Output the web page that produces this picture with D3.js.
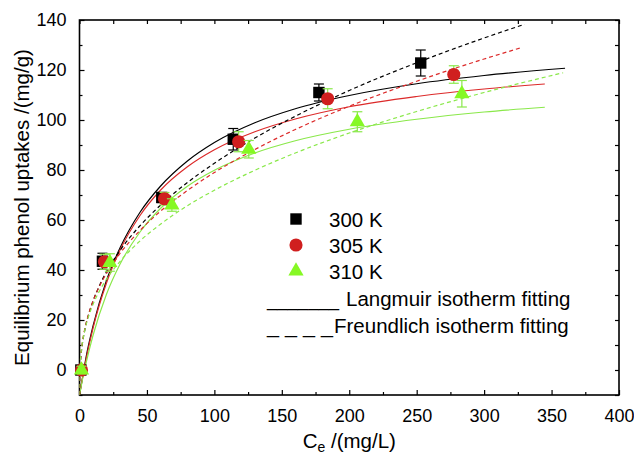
<!DOCTYPE html>
<html>
<head>
<meta charset="utf-8">
<script src="https://cdn.jsdelivr.net/npm/d3@7/dist/d3.min.js"></script>
<style>
  html, body { margin: 0; padding: 0; background: #fff; }
  svg { display: block; font-family: "Liberation Sans", Arial, Helvetica, sans-serif; }
</style>
</head>
<body>
<svg id="chart" width="634" height="455"></svg>
<script>
// Axis ticks
const xTicks = [0, 50, 100, 150, 200, 250, 300, 350, 400];
const xMinorTicks = [25, 75, 125, 175, 225, 275, 325, 375];
const yTicks = [0, 20, 40, 60, 80, 100, 120, 140];
const yMinorTicks = [-10, 10, 30, 50, 70, 90, 110, 130];

// Measured uptake (mg/g) vs equilibrium concentration (mg/L), with error bars
const ce300 = [1, 17, 61, 114, 177.5, 253];
const q300 = [0, 43.5, 69, 92.3, 111, 122.8];
const err300 = [1, 3.2, 2, 4.3, 3.4, 5.2];

const ce305 = [1.5, 18.5, 63, 118, 184, 277.5];
const q305 = [0, 43.3, 68.5, 91.3, 108.5, 118.2];
const err305 = [1, 3, 2.5, 4, 4, 3.5];

const ce310 = [1.5, 22.5, 68.5, 125.5, 206, 283.5];
const q310 = [0, 43, 66, 88.3, 99.3, 110.5];
const err310 = [1.5, 3.5, 2.5, 3.5, 4, 5.3];

// Langmuir fitted curves
const lanC300 = [0, 2, 5, 10, 20, 30, 45, 60, 80, 100, 130, 160, 200, 250, 300, 360];
const lanQ300 = [-10, -3.9, 5.5, 17.5, 35.8, 48.8, 63.2, 73.5, 83.6, 91.0, 98.9, 104.5, 109.8, 114.5, 117.8, 120.7];
const lanC305 = [0, 2, 5, 10, 20, 30, 45, 60, 80, 100, 130, 160, 200, 250, 300, 345];
const lanQ305 = [-10, -3.7, 4.7, 16.7, 34.8, 47.9, 61.9, 71.9, 81.3, 88.1, 95.3, 100.4, 105.3, 109.4, 112.4, 114.4];
const lanC310 = [0, 2, 5, 10, 20, 30, 45, 60, 80, 100, 130, 160, 200, 250, 300, 345];
const lanQ310 = [-10, -4.4, 3.1, 13.8, 30.3, 42.3, 55.3, 64.6, 73.5, 79.9, 86.8, 91.7, 96.3, 100.3, 103.2, 105.1];

// Freundlich fitted curves
const freC300 = [0, 0.25, 1, 2, 4, 7, 10, 15, 20, 30, 45, 60, 80, 100, 130, 160, 200, 250, 300, 330];
const freQ300 = [-10, -1.2, 5.2, 9.9, 16.2, 22.6, 27.5, 34.0, 39.3, 47.8, 57.8, 65.9, 75.0, 82.7, 92.8, 101.5, 111.8, 122.9, 132.8, 138.3];
const freC305 = [0, 0.25, 1, 2, 4, 7, 10, 15, 20, 30, 45, 60, 80, 100, 130, 160, 200, 250, 300, 328];
const freQ305 = [-10, -0.6, 5.8, 10.5, 16.6, 22.8, 27.5, 33.7, 38.6, 46.6, 55.9, 63.5, 71.8, 79.0, 88.2, 96.2, 105.5, 115.5, 124.4, 129.0];
const freC310 = [0, 0.25, 1, 2, 4, 7, 10, 15, 20, 30, 45, 60, 80, 100, 130, 160, 200, 250, 300, 358.6];
const freQ310 = [-10, -0.2, 6.0, 10.4, 16.1, 21.9, 26.2, 31.8, 36.3, 43.4, 51.7, 58.3, 65.7, 71.9, 79.9, 86.8, 94.8, 103.4, 111.0, 118.9];

const legendLabels = ["300 K", "305 K", "310 K"];

const BLACK = "#000000", RED = "#d01f1f", GREEN = "#86f824";
const RED_LINE = "#dc2a2a", GREEN_LINE = "#8ae84a";

const svg = d3.select("#chart");
const margin = { left: 79.5, right: 15, top: 20, bottom: 60 };
const W = 634, H = 455;

const x = d3.scaleLinear().domain([0, 400]).range([margin.left, W - margin.right]);
const y = d3.scaleLinear().domain([-10, 140]).range([H - margin.bottom, margin.top]);

const x0 = x.range()[0], x1 = x.range()[1], y0 = y.range()[0], y1 = y.range()[1];

svg.append("defs").append("clipPath").attr("id", "plotClip")
  .append("rect").attr("x", x0).attr("y", y1).attr("width", x1 - x0).attr("height", y0 - y1);

// Axes: bottom/left with labels, top/right mirrored ticks, all ticks pointing inward
function styleAxis(g) {
  g.select(".domain").remove();
  g.selectAll(".tick line").attr("stroke", "#000").attr("stroke-width", 1.2);
  g.selectAll(".tick text").attr("font-size", 18).attr("fill", "#000")
    .attr("font-family", "'Liberation Sans', Arial, sans-serif");
}

svg.append("g").attr("transform", `translate(0,${y0})`)
  .call(d3.axisBottom(x).tickValues(xTicks).tickSizeInner(-5).tickSizeOuter(0).tickPadding(14).tickFormat(d3.format("d")))
  .call(styleAxis);
svg.append("g").attr("transform", `translate(0,${y0})`)
  .call(d3.axisBottom(x).tickValues(xMinorTicks).tickSizeInner(-3).tickSizeOuter(0).tickFormat(""))
  .call(styleAxis);
svg.append("g").attr("transform", `translate(0,${y1})`)
  .call(d3.axisTop(x).tickValues(xTicks.concat(xMinorTicks)).tickSizeInner(-4).tickSizeOuter(0).tickFormat(""))
  .call(styleAxis);

svg.append("g").attr("transform", `translate(${x0},0)`)
  .call(d3.axisLeft(y).tickValues(yTicks).tickSizeInner(-5).tickSizeOuter(0).tickPadding(13).tickFormat(d3.format("d")))
  .call(styleAxis);
svg.append("g").attr("transform", `translate(${x0},0)`)
  .call(d3.axisLeft(y).tickValues(yMinorTicks).tickSizeInner(-3).tickSizeOuter(0).tickFormat(""))
  .call(styleAxis);
svg.append("g").attr("transform", `translate(${x1},0)`)
  .call(d3.axisRight(y).tickValues(yTicks.concat(yMinorTicks)).tickSizeInner(-4).tickSizeOuter(0).tickFormat(""))
  .call(styleAxis);

// Frame
svg.append("rect").attr("x", x0).attr("y", y1).attr("width", x1 - x0).attr("height", y0 - y1)
  .attr("fill", "none").attr("stroke", "#000").attr("stroke-width", 1.6);

// Fitted curves
const line = d3.line().x(d => x(d[0])).y(d => y(d[1])).curve(d3.curveMonotoneX);
const curves = [
  { c: lanC300, q: lanQ300, color: BLACK, dash: null },
  { c: lanC305, q: lanQ305, color: RED_LINE, dash: null },
  { c: lanC310, q: lanQ310, color: GREEN_LINE, dash: null },
  { c: freC300, q: freQ300, color: BLACK, dash: "4,3" },
  { c: freC305, q: freQ305, color: RED_LINE, dash: "4,3" },
  { c: freC310, q: freQ310, color: GREEN_LINE, dash: "4,3" }
];
const curveG = svg.append("g").attr("clip-path", "url(#plotClip)");
curves.forEach(cv => {
  curveG.append("path")
    .datum(d3.zip(cv.c, cv.q))
    .attr("d", line)
    .attr("fill", "none")
    .attr("stroke", cv.color)
    .attr("stroke-width", 1.2)
    .attr("stroke-dasharray", cv.dash);
});

// Error bars
function errorBars(cs, qs, es, color) {
  const g = svg.append("g").attr("stroke", color).attr("stroke-width", 1.2).attr("fill", "none");
  cs.forEach((c, i) => {
    const cx = x(c), top = y(qs[i] + es[i]), bot = y(qs[i] - es[i]);
    g.append("line").attr("x1", cx).attr("x2", cx).attr("y1", top).attr("y2", bot);
    g.append("line").attr("x1", cx - 5).attr("x2", cx + 5).attr("y1", top).attr("y2", top);
    g.append("line").attr("x1", cx - 5).attr("x2", cx + 5).attr("y1", bot).attr("y2", bot);
  });
}

const sq = d3.symbol().type(d3.symbolSquare).size(130);
const circ = d3.symbol().type(d3.symbolCircle).size(135);
const tri = d3.symbol().type(d3.symbolTriangle).size(100);

function markers(cs, qs, sym, color) {
  svg.append("g").selectAll("path").data(d3.zip(cs, qs)).join("path")
    .attr("d", sym)
    .attr("transform", d => `translate(${x(d[0])},${y(d[1])})`)
    .attr("fill", color);
}

errorBars(ce300, q300, err300, BLACK);
markers(ce300, q300, sq, BLACK);
errorBars(ce305, q305, err305, GREEN_LINE);
markers(ce305, q305, circ, RED);
errorBars(ce310, q310, err310, GREEN_LINE);
markers(ce310, q310, tri, GREEN);

// Legend
const legend = svg.append("g");
const legSyms = [sq, circ, tri], legColors = [BLACK, RED, GREEN];
legendLabels.forEach((lab, i) => {
  const cy = 219 + i * 26;
  legend.append("path").attr("d", legSyms[i]).attr("transform", `translate(296,${cy})`).attr("fill", legColors[i]);
  legend.append("text").attr("x", 329).attr("y", cy + 7.5).attr("font-size", 20.5).text(lab);
});
legend.append("text").attr("x", 267).attr("y", 306).attr("font-size", 20.5)
  .attr("textLength", 72).attr("lengthAdjust", "spacingAndGlyphs").text("_______");
legend.append("text").attr("x", 346).attr("y", 306).attr("font-size", 20.5).text("Langmuir isotherm fitting");
legend.append("text").attr("x", 267).attr("y", 333).attr("font-size", 20.5)
  .attr("textLength", 66).attr("lengthAdjust", "spacingAndGlyphs").text("_ _ _ _");
legend.append("text").attr("x", 334).attr("y", 333).attr("font-size", 20.5).text("Freundlich isotherm fitting");

// Axis titles
const xt = svg.append("text").attr("x", (x0 + x1) / 2).attr("y", 448).attr("text-anchor", "middle").attr("font-size", 20.5);
xt.append("tspan").text("C");
xt.append("tspan").attr("font-size", 14).attr("dy", 4).text("e");
xt.append("tspan").attr("dy", -4).text(" /(mg/L)");

svg.append("text")
  .attr("transform", `translate(29,${(y0 + y1) / 2}) rotate(-90)`)
  .attr("text-anchor", "middle").attr("font-size", 20.5)
  .text("Equilibrium phenol uptakes /(mg/g)");
</script>
</body>
</html>
